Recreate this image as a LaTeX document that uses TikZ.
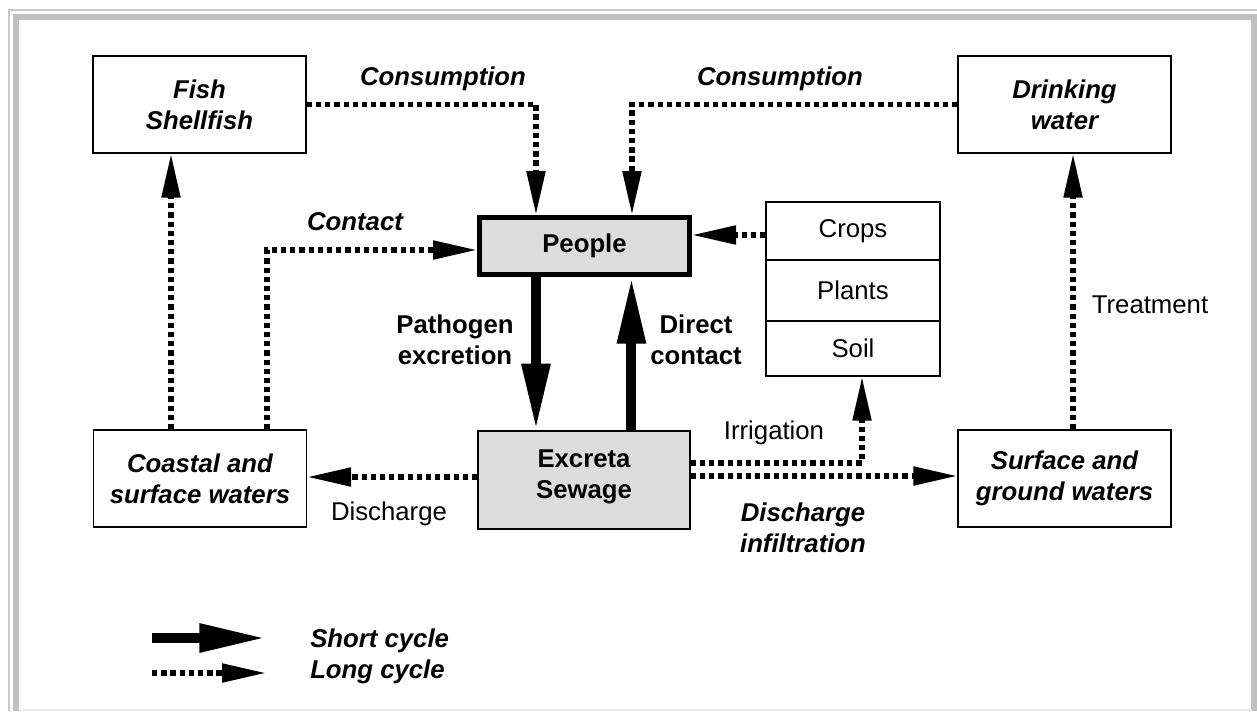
\documentclass[tikz,border=0pt]{standalone}
\usepackage{fontspec}
\setmainfont{Liberation Sans}
\usetikzlibrary{arrows.meta}
\definecolor{boxgray}{RGB}{220,220,220}
\definecolor{bandgray}{RGB}{192,192,192}
\definecolor{thingray}{RGB}{200,200,200}
\definecolor{edgegray}{RGB}{232,232,232}

\begin{document}
\begin{tikzpicture}[x=0.75pt,y=-0.75pt,
  every node/.style={font=\fontsize{19.3}{23.5}\selectfont, inner sep=0pt},
  box/.style={draw, line width=1.1pt, align=center},
  ital/.style={font=\fontsize{19.3}{23.5}\selectfont\bfseries\itshape, align=center},
  bold/.style={font=\fontsize{19.3}{23.5}\selectfont\bfseries, align=center},
  bigbox/.style={box, minimum width=159.75pt, minimum height=72.75pt},
  stackbox/.style={box, minimum width=130.5pt},
  longcycle/.style={line width=3.9pt, dash pattern=on 4pt off 2.9pt,
    -{Triangle[length=33pt,width=13.5pt]}},
  shortcycle/.style={line width=7.5pt, -{Triangle[length=50pt,width=20pt]}},
]
\useasboundingbox (0,0) rectangle (1257,711);

% frame
\draw[thingray, line width=1.5pt] (9,711) -- (9,10.3) -- (1257,10.3);
\draw[bandgray, line width=4.9pt] (16,711) -- (16,17) -- (1254.5,17) -- (1254.5,711);
\draw[edgegray, line width=1pt] (19,710) -- (1252,710);

% boxes
\node[bigbox, ital] (fish) at (199.5,104.5) {Fish\\Shellfish};
\node[bigbox, ital] (drink) at (1064.5,104.5) {Drinking\\water};
\node[draw, line width=3.75pt, fill=boxgray, bold, minimum width=157.5pt,
      minimum height=42.75pt] (people) at (584.5,246) {People};
\node[box, fill=boxgray, bold, minimum width=159pt, minimum height=73.5pt]
      (excreta) at (584,480) {Excreta\\Sewage\\[-15pt]\mbox{}};
\node[bigbox, ital] (coastal) at (200,478.5) {Coastal and\\surface waters};
\node[bigbox, ital] (surface) at (1064.5,478.5) {Surface and\\ground waters};
\node[stackbox, minimum height=43.5pt] (crops) at (853,231) {Crops};
\node[stackbox, minimum height=45.75pt] (plants) at (853,290.5) {Plants};
\node[stackbox, minimum height=41.25pt] (soil) at (853,348.5) {Soil};

% long cycle routes
\draw[longcycle] (fish.east) -| ([xshift=-36.4pt]people.north);
\draw[longcycle] (drink.west) -| ([xshift=35.6pt]people.north);
\draw[longcycle] ([xshift=50.25pt]coastal.north) |- ([yshift=-3pt]people.west);
\draw[longcycle] ([xshift=-21.75pt]coastal.north) -- ([xshift=-21.75pt]coastal.north |- fish.south);
\draw[longcycle] ([yshift=-3pt]crops.west) -- ([yshift=-3pt]crops.west -| people.east);
\draw[longcycle] ([yshift=12.75pt]excreta.east) -| ([xshift=6.75pt]soil.south);
\draw[longcycle] ([yshift=3pt]excreta.east) -- ([yshift=3pt]excreta.east -| surface.west);
\draw[longcycle] ([yshift=2.25pt]excreta.west) -- ([yshift=2.25pt]excreta.west -| coastal.east);
\draw[longcycle] ([xshift=6.4pt]surface.north) -- ([xshift=6.4pt]surface.north |- drink.south);

% short cycle routes
\draw[shortcycle] ([xshift=-36.4pt]people.south) -- ([xshift=-36.4pt]people.south |- excreta.north);
\draw[shortcycle] ([xshift=35.6pt]excreta.north) -- ([xshift=35.6pt]excreta.north |- people.south);

% labels
\node[ital, anchor=base] (consL) at (443,85) {Consumption};
\node[ital, anchor=base] (consR) at (780,85) {Consumption};
\node[ital, anchor=base] (contact) at (355,230) {Contact};
\node[bold] (pathogen) at (455,339.5) {Pathogen\\excretion};
\node[bold] (direct) at (696,339.5) {Direct\\contact};
\node[anchor=base] (irrig) at (774,439) {Irrigation};
\node[anchor=base] (disch) at (389,520) {Discharge};
\node[anchor=base] (treat) at (1150,313) {Treatment};
\node[ital] (infil) at (803,527.5) {Discharge\\infiltration};

% legend
\coordinate (s1) at (152,638);
\coordinate (s2) at (266,638);
\coordinate (d1) at (152,673);
\coordinate (d2) at (266,673);
\draw[shortcycle] (s1) -- (s2);
\draw[longcycle] (d1) -- (d2);
\node[ital, anchor=base west] (lshort) at (310,647) {Short cycle};
\node[ital, anchor=base west] (llong) at (310,678) {Long cycle};
\end{tikzpicture}
\end{document}
